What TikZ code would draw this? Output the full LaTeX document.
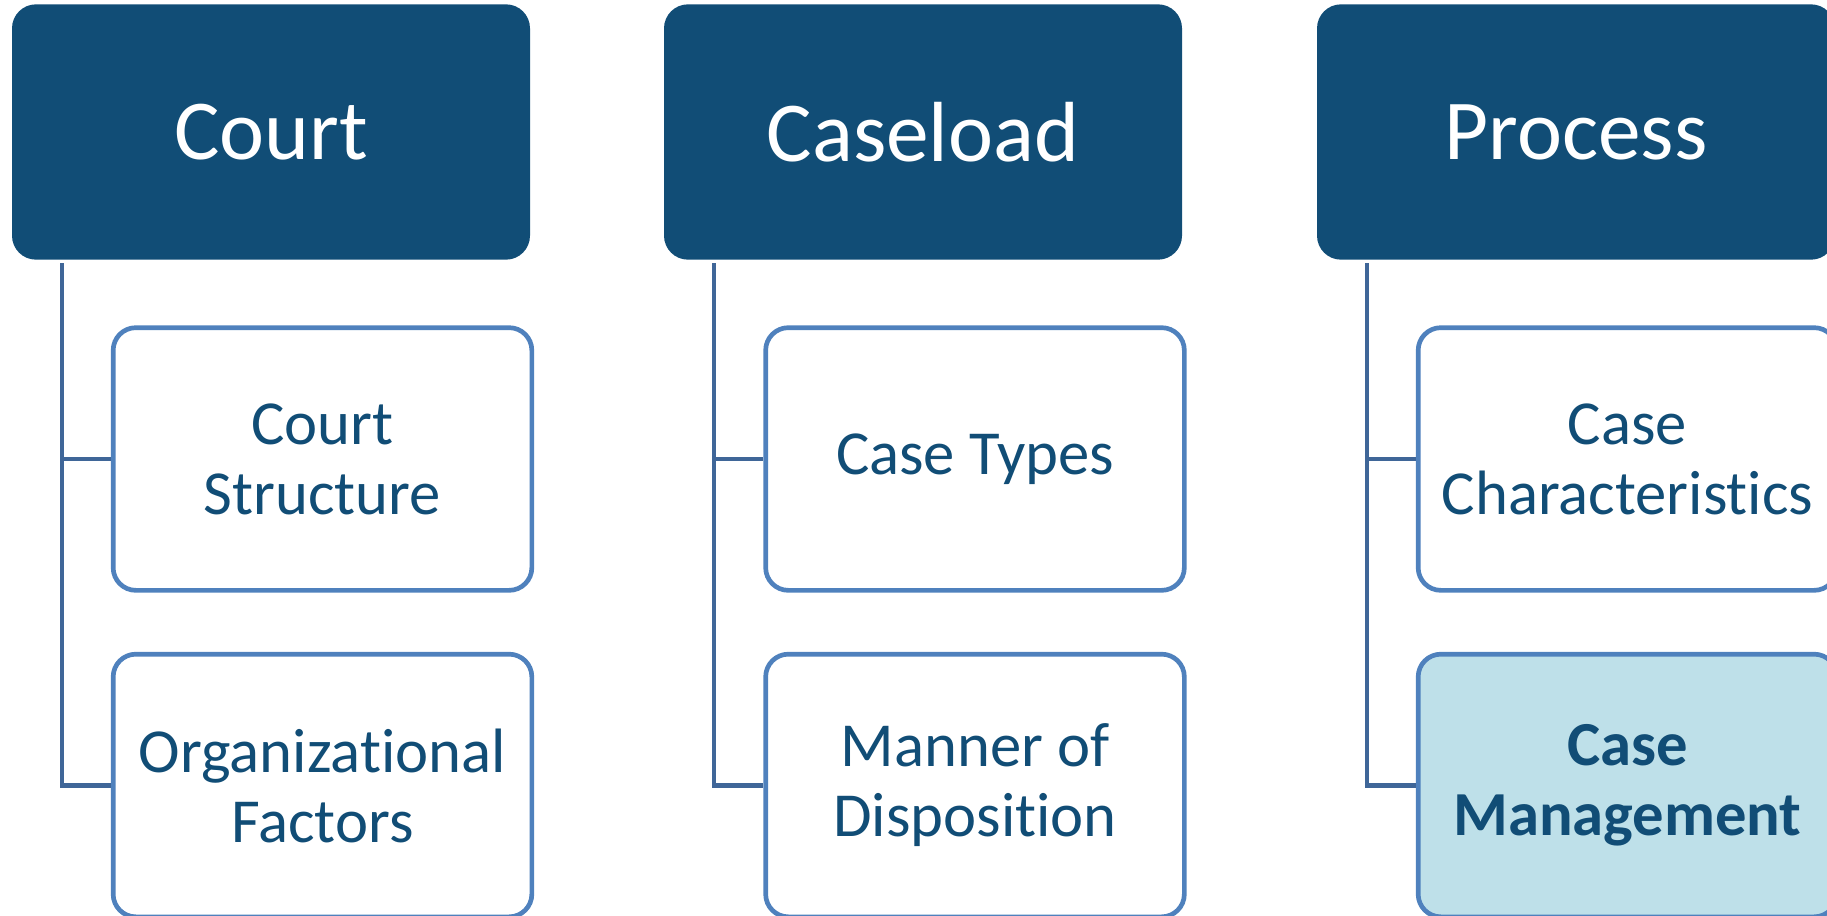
\documentclass[tikz,border=0pt]{standalone}
\usepackage{fontspec}
\setmainfont[RawFeature={-liga;-clig;-dlig;-calt}]{Carlito}
\definecolor{topfill}{HTML}{114D76}
\definecolor{txtblue}{HTML}{114D76}
\definecolor{linecol}{HTML}{3F6698}
\definecolor{childborder}{HTML}{4F81BD}
\definecolor{hilite}{HTML}{BEE0E9}
\newcommand{\tinolig}{t\kern0pt i}
\begin{document}
\begin{tikzpicture}[x=0.75pt,y=-0.75pt,
  topbox/.style={rectangle, rounded corners=18pt, fill=topfill, draw=none,
    minimum width=388.5pt, minimum height=191.5pt, text=white,
    font=\fontsize{64}{77}\selectfont, inner sep=0pt},
  childbox/.style={rectangle, rounded corners=17pt, fill=white, draw=childborder,
    line width=3.5pt, minimum width=314pt, minimum height=197pt, text=txtblue,
    align=center, font=\fontsize{47}{52.5}\selectfont, inner sep=0pt},
  conn/.style={draw=linecol, line width=3.5pt}]
\useasboundingbox (0,0) rectangle (1827,915);
\clip (0,0) rectangle (1827,915);
% top boxes
\node[topbox] (t1) at (271,132) {Court};
\node[topbox] (t2) at (923,132) {Caseload};
\node[topbox] (t3) at (1576,132) {Process};
% connector start points
\coordinate (v1) at (62,263);
\coordinate (v2) at (714,263);
\coordinate (v3) at (1367,263);
% children
\node[childbox] (c11) at (322.5,459) {Court\\Structure};
\node[childbox] (c12) at (322.5,785.5) {Organiza\tinolig onal\\Factors};
\node[childbox] (c21) at (975,459) {Case Types};
\node[childbox] (c22) at (975,785.5) {Manner of\\Disposi\tinolig on};
\node[childbox] (c31) at (1627.5,459) {Case\\Characteris\tinolig cs};
\node[childbox, fill=hilite, font=\fontsize{47}{52.5}\selectfont\bfseries] (c32) at (1627.5,785.5) {Case\\Management};
% connectors
\draw[conn] (v1) |- (c12.west);
\draw[conn] (v1 |- c11.west) -- (c11.west);
\draw[conn] (v2) |- (c22.west);
\draw[conn] (v2 |- c21.west) -- (c21.west);
\draw[conn] (v3) |- (c32.west);
\draw[conn] (v3 |- c31.west) -- (c31.west);
\end{tikzpicture}
\end{document}
